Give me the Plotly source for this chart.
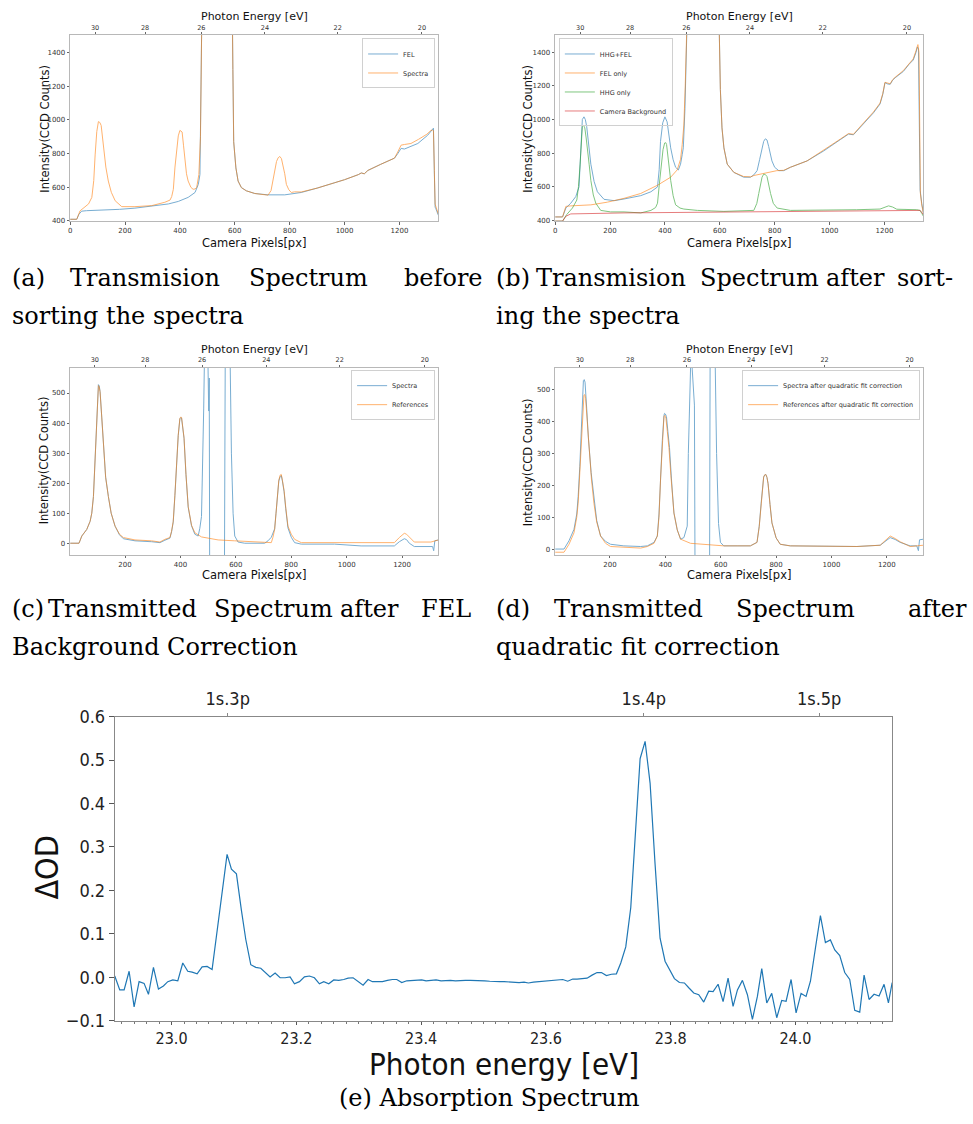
import plotly.graph_objects as go

BLUE = '#1f77b4'; ORANGE = '#ff7f0e'; GREEN = '#2ca02c'; RED = '#d62728'

# ---------------- (a) ----------------
a_fel_px = [0, 24, 32, 42, 60, 115, 180, 236, 300, 358, 394, 430, 455, 467, 473, 479, 484, 590, 593, 596, 604, 612, 624, 642, 673, 721, 782, 842, 900, 964, 1000, 1050, 1061, 1072, 1085, 1130, 1160, 1182, 1194, 1206, 1218, 1236, 1267, 1303, 1315, 1321, 1324, 1327, 1330, 1333, 1342]
a_fel = [410, 410, 440, 458, 461, 464, 469, 476, 487, 501, 516, 540, 569, 617, 676, 1505, 1800, 1800, 1300, 870, 715, 637, 598, 579, 563, 555, 555, 569, 595, 627, 645, 675, 685, 680, 700, 735, 757, 773, 800, 831, 827, 840, 860, 909, 935, 951, 951, 700, 482, 472, 433]
a_spec_px = [0, 24, 36, 50, 67, 79, 86, 91, 97, 103, 108, 113, 121, 130, 139, 150, 164, 188, 236, 297, 345, 364, 370, 376, 382, 388, 394, 400, 404, 408, 413, 418, 424, 430, 440, 448, 455, 461, 469, 475, 479, 484, 590, 593, 596, 604, 612, 624, 642, 673, 721, 732, 739, 745, 752, 758, 764, 770, 776, 782, 788, 797, 806, 818, 842, 900, 964, 1000, 1050, 1061, 1072, 1085, 1130, 1160, 1182, 1194, 1206, 1218, 1242, 1270, 1300, 1315, 1321, 1324, 1327, 1330, 1336, 1342]
a_spec = [410, 410, 460, 480, 501, 540, 640, 792, 930, 990, 985, 967, 831, 720, 637, 570, 520, 485, 485, 491, 511, 524, 545, 588, 720, 831, 905, 938, 935, 928, 850, 753, 680, 637, 600, 588, 590, 598, 676, 900, 1505, 1800, 1800, 1300, 870, 715, 637, 598, 579, 563, 553, 580, 637, 700, 753, 775, 783, 770, 730, 680, 617, 585, 569, 573, 572, 595, 627, 645, 675, 685, 680, 700, 735, 757, 773, 810, 850, 854, 860, 885, 915, 938, 940, 935, 700, 500, 470, 440]

# ---------------- (b) ----------------
b_hf_px = [0, 27, 39, 57, 75, 87, 93, 99, 105, 110, 115, 122, 130, 142, 154, 178, 215, 251, 312, 349, 373, 379, 384, 392, 400, 408, 415, 421, 430, 439, 449, 457, 463, 467, 473, 479, 484, 595, 599, 602, 608, 615, 627, 651, 687, 712, 724, 736, 745, 754, 760, 766, 772, 778, 784, 790, 800, 815, 833, 857, 918, 978, 1039, 1069, 1087, 1124, 1160, 1184, 1194, 1202, 1212, 1221, 1230, 1239, 1269, 1290, 1305, 1315, 1320, 1324, 1328, 1330, 1336, 1342]
b_hf = [419, 419, 472, 501, 540, 598, 800, 1000, 1016, 1000, 957, 850, 734, 630, 569, 524, 516, 526, 546, 569, 598, 700, 870, 980, 1016, 986, 900, 831, 760, 715, 699, 734, 790, 831, 1064, 1505, 1800, 1800, 1505, 1180, 950, 831, 734, 685, 656, 656, 670, 695, 760, 831, 870, 885, 878, 840, 790, 753, 715, 695, 695, 715, 753, 812, 880, 913, 909, 977, 1040, 1093, 1150, 1220, 1212, 1210, 1235, 1249, 1287, 1330, 1355, 1400, 1433, 1420, 800, 579, 500, 443]
b_fel_px = [0, 27, 39, 57, 130, 190, 251, 312, 373, 421, 445, 457, 463, 469, 474, 479, 484, 595, 599, 602, 608, 615, 627, 651, 687, 712, 724, 772, 808, 833, 857, 918, 978, 1039, 1069, 1087, 1124, 1160, 1184, 1194, 1202, 1212, 1221, 1230, 1239, 1269, 1290, 1305, 1315, 1322, 1326, 1329, 1331, 1336, 1342]
b_fel = [419, 419, 482, 485, 491, 507, 530, 559, 608, 656, 700, 763, 850, 967, 1200, 1505, 1800, 1800, 1505, 1180, 950, 831, 734, 685, 660, 658, 666, 685, 695, 697, 715, 753, 815, 883, 916, 912, 980, 1045, 1098, 1155, 1222, 1215, 1213, 1238, 1252, 1292, 1335, 1362, 1410, 1447, 1400, 800, 560, 490, 440]
b_hhg_px = [0, 27, 42, 63, 79, 85, 91, 96, 99, 103, 108, 113, 118, 124, 130, 139, 148, 166, 202, 251, 312, 349, 366, 373, 380, 387, 393, 399, 403, 406, 412, 421, 430, 439, 455, 469, 518, 615, 724, 735, 742, 748, 754, 760, 766, 772, 778, 785, 795, 809, 857, 978, 1099, 1184, 1200, 1215, 1230, 1245, 1318, 1330, 1336, 1342]
b_hhg = [394, 394, 433, 472, 520, 600, 734, 880, 957, 967, 950, 890, 831, 730, 637, 550, 501, 458, 449, 449, 443, 458, 475, 501, 620, 734, 820, 860, 862, 851, 760, 637, 545, 491, 472, 466, 458, 452, 458, 500, 559, 610, 656, 674, 672, 660, 610, 559, 500, 472, 458, 458, 462, 466, 478, 485, 478, 465, 462, 458, 440, 423]
b_bg_px = [0, 27, 39, 57, 251, 615, 978, 1221, 1330, 1336, 1342]
b_bg = [394, 394, 423, 437, 443, 449, 452, 458, 458, 445, 433]

# ---------------- (c) ----------------
c_ref_px = [2, 34, 44, 62, 74, 80, 86, 91, 96, 100, 104, 107, 110, 116, 122, 130, 140, 150, 164, 180, 194, 236, 296, 326, 344, 362, 368, 374, 380, 386, 392, 398, 401, 404, 408, 413, 420, 428, 440, 452, 476, 536, 596, 692, 728, 734, 740, 745, 750, 755, 760, 764, 768, 774, 780, 788, 800, 812, 836, 956, 1076, 1172, 1190, 1208, 1216, 1226, 1244, 1304, 1331]
c_ref = [0, 0, 24, 46, 73, 100, 155, 250, 351, 450, 525, 520, 503, 420, 318, 220, 155, 100, 57, 30, 19, 11, 8, 4, 13, 19, 40, 73, 160, 264, 360, 416, 420, 419, 390, 351, 230, 122, 60, 35, 21, 11, 8, 5, 2, 20, 46, 100, 166, 210, 227, 229, 210, 176, 120, 57, 30, 13, 2, 2, 2, 2, 19, 33, 30, 21, 4, 4, 11]
c_spec_px = [2, 34, 44, 62, 74, 80, 86, 91, 96, 100, 104, 107, 110, 116, 122, 130, 140, 150, 164, 180, 194, 236, 296, 326, 344, 362, 368, 374, 380, 386, 392, 398, 401, 404, 408, 413, 420, 428, 440, 452, 464, 470, 476, 480, 484, 488, 498, 500, 502, 504, 506, 558, 562, 578, 584, 590, 596, 608, 632, 704, 716, 728, 734, 740, 745, 750, 755, 760, 764, 768, 774, 780, 788, 800, 812, 836, 956, 1052, 1172, 1190, 1208, 1216, 1226, 1244, 1310, 1314, 1318, 1331]
c_spec = [0, 0, 24, 46, 73, 100, 155, 250, 351, 450, 528, 524, 505, 420, 318, 220, 155, 100, 57, 28, 15, 8, 5, 2, 10, 17, 38, 70, 158, 262, 358, 414, 418, 417, 388, 349, 228, 120, 58, 30, 24, 50, 89, 250, 450, 700, 700, 560, 440, 550, -300, -300, 700, 700, 300, 100, 24, 4, 0, 0, 8, 20, 35, 48, 100, 164, 207, 222, 225, 207, 172, 115, 51, 20, 2, -3, -3, -9, -9, 5, 15, 12, 0, -11, -11, -25, 8, 11]

# ---------------- (d) ----------------
d_ref_px = [2, 34, 52, 70, 80, 85, 91, 97, 102, 106, 109, 112, 118, 124, 133, 142, 152, 166, 184, 202, 250, 311, 335, 359, 371, 377, 383, 389, 395, 398, 402, 407, 413, 420, 431, 443, 455, 491, 551, 611, 707, 731, 739, 746, 751, 755, 759, 763, 767, 771, 778, 785, 800, 815, 851, 972, 1092, 1176, 1194, 1212, 1230, 1248, 1284, 1332]
d_ref = [-10, -10, 15, 51, 100, 144, 240, 349, 440, 483, 485, 472, 400, 318, 220, 144, 85, 41, 18, 8, 5, 3, 8, 18, 41, 100, 226, 330, 416, 420, 411, 370, 318, 230, 113, 60, 31, 18, 13, 10, 10, 21, 70, 144, 190, 226, 233, 234, 225, 205, 140, 82, 35, 15, 10, 8, 8, 12, 28, 41, 33, 23, 8, 12]
d_spec_px = [2, 34, 52, 70, 80, 85, 91, 97, 101, 104, 107, 110, 116, 122, 132, 142, 152, 166, 184, 202, 250, 311, 335, 359, 371, 377, 383, 389, 395, 397, 400, 404, 409, 415, 422, 431, 443, 455, 467, 475, 479, 483, 487, 495, 497, 500, 505, 508, 559, 562, 578, 585, 592, 599, 611, 659, 707, 731, 735, 739, 746, 751, 755, 759, 763, 767, 771, 778, 785, 800, 815, 851, 972, 1092, 1176, 1194, 1212, 1230, 1248, 1284, 1308, 1314, 1318, 1332]
d_spec = [0, 0, 26, 62, 110, 164, 260, 370, 470, 529, 532, 524, 440, 349, 240, 154, 90, 41, 24, 15, 10, 8, 10, 21, 41, 110, 236, 340, 420, 426, 424, 416, 370, 318, 220, 113, 60, 31, 36, 60, 72, 300, 700, 700, 565, 503, 452, -300, -300, 700, 700, 300, 80, 21, 10, 10, 10, 21, 41, 72, 144, 190, 226, 233, 234, 225, 205, 140, 82, 35, 15, 10, 8, 8, 12, 25, 36, 30, 21, 10, 10, -5, 29, 31]

# top (photon energy) axis of panels a-d: tick positions in camera pixels and labels
energy_tick_px = [91, 273, 478, 710, 975, 1282]
energy_tick_labels = ['30', '28', '26', '24', '22', '20']

# ---------------- (e) ----------------
e_energy = [22.909, 22.917, 22.924, 22.932, 22.940, 22.948, 22.956, 22.963, 22.971, 22.979,
            22.987, 22.994, 23.002, 23.010, 23.018, 23.026, 23.033, 23.041, 23.049, 23.057,
            23.065, 23.073, 23.081, 23.089, 23.096, 23.104, 23.112, 23.119, 23.127, 23.135,
            23.143, 23.151, 23.158, 23.166, 23.174, 23.182, 23.190, 23.197, 23.205, 23.213,
            23.221, 23.229, 23.237, 23.244, 23.252, 23.260, 23.268, 23.276, 23.283, 23.291,
            23.299, 23.307, 23.315, 23.322, 23.330, 23.338, 23.346, 23.354, 23.361, 23.369,
            23.377, 23.385, 23.393, 23.401, 23.408, 23.416, 23.424, 23.432, 23.440, 23.447,
            23.455, 23.463, 23.471, 23.479, 23.487, 23.494, 23.502, 23.510, 23.518, 23.526,
            23.533, 23.541, 23.549, 23.557, 23.565, 23.572, 23.580, 23.588, 23.596, 23.604,
            23.611, 23.619, 23.627, 23.635, 23.643, 23.650, 23.658, 23.666, 23.674, 23.682,
            23.689, 23.697, 23.705, 23.713, 23.720, 23.728, 23.736, 23.744, 23.751, 23.759,
            23.767, 23.775, 23.783, 23.791, 23.798, 23.806, 23.814, 23.822, 23.829, 23.837,
            23.845, 23.853, 23.861, 23.868, 23.876, 23.884, 23.892, 23.900, 23.907, 23.915,
            23.923, 23.931, 23.939, 23.946, 23.954, 23.962, 23.970, 23.978, 23.985, 23.993,
            24.001, 24.009, 24.017, 24.024, 24.032, 24.040, 24.048, 24.056, 24.063, 24.071,
            24.079, 24.087, 24.095, 24.103, 24.110, 24.118, 24.126, 24.134, 24.142, 24.149,
            24.155]
e_dod = [0.003, -0.029, -0.029, 0.014, -0.068, -0.010, -0.014, -0.039, 0.023, -0.027,
         -0.020, -0.010, -0.006, -0.008, 0.033, 0.014, 0.012, 0.008, 0.024, 0.025,
         0.018, 0.108, 0.199, 0.283, 0.249, 0.238, 0.154, 0.087, 0.029, 0.023,
         0.021, 0.010, 0.001, 0.010, -0.001, -0.001, 0.001, -0.015, -0.010, 0.001,
         0.003, -0.001, -0.015, -0.010, -0.015, -0.006, -0.007, -0.005, -0.002, -0.001,
         -0.009, -0.018, -0.005, -0.010, -0.010, -0.010, -0.007, -0.005, -0.005, -0.012,
         -0.008, -0.007, -0.006, -0.006, -0.008, -0.007, -0.006, -0.008, -0.007, -0.007,
         -0.008, -0.007, -0.007, -0.007, -0.007, -0.008, -0.008, -0.009, -0.010, -0.010,
         -0.010, -0.011, -0.011, -0.012, -0.011, -0.013, -0.011, -0.010, -0.009, -0.008,
         -0.008, -0.007, -0.005, -0.009, -0.004, -0.004, -0.003, -0.002, 0.005, 0.011,
         0.011, 0.004, 0.007, 0.008, 0.033, 0.070, 0.160, 0.330, 0.503, 0.543,
         0.447, 0.260, 0.090, 0.037, 0.018, -0.003, -0.012, -0.013, -0.024, -0.036,
         -0.040, -0.057, -0.032, -0.033, -0.016, -0.056, -0.002, -0.067, -0.029, -0.007,
         -0.040, -0.097, -0.044, 0.020, -0.059, -0.037, -0.093, -0.053, -0.055, -0.005,
         -0.082, -0.037, -0.044, -0.009, 0.067, 0.142, 0.080, 0.086, 0.063, 0.050,
         0.011, -0.005, -0.076, -0.080, 0.005, -0.051, -0.039, -0.043, -0.016, -0.059,
         -0.012]
e_line_energy = [23.09, 23.757, 24.038]
e_line_labels = ['1s.3p', '1s.4p', '1s.5p']

# ---------------- figure ----------------
fig = go.Figure()

def add(x, y, name, color, xa, ya, legend, op=0.6, show=True):
    fig.add_trace(go.Scatter(x=x, y=y, mode='lines', name=name, line=dict(color=color, width=1),
                             opacity=op, xaxis=xa, yaxis=ya, legend=legend, showlegend=show,
                             hoverinfo='skip'))

add(a_fel_px, a_fel, 'FEL', BLUE, 'x', 'y', 'legend')
add(a_spec_px, a_spec, 'Spectra', ORANGE, 'x', 'y', 'legend')
add(b_hf_px, b_hf, 'HHG+FEL', BLUE, 'x2', 'y2', 'legend2')
add(b_fel_px, b_fel, 'FEL only', ORANGE, 'x2', 'y2', 'legend2')
add(b_hhg_px, b_hhg, 'HHG only', GREEN, 'x2', 'y2', 'legend2')
add(b_bg_px, b_bg, 'Camera Background', RED, 'x2', 'y2', 'legend2')
add(c_spec_px, c_spec, 'Spectra', BLUE, 'x3', 'y3', 'legend3')
add(c_ref_px, c_ref, 'References', ORANGE, 'x3', 'y3', 'legend3')
add(d_spec_px, d_spec, 'Spectra after quadratic fit correction', BLUE, 'x4', 'y4', 'legend4')
add(d_ref_px, d_ref, 'References after quadratic fit correction', ORANGE, 'x4', 'y4', 'legend4')
fig.add_trace(go.Scatter(x=e_energy, y=e_dod, mode='lines', line=dict(color=BLUE, width=1.2),
                         xaxis='x9', yaxis='y9', showlegend=False, hoverinfo='skip'))

# empty traces so that the secondary (top) axes get drawn
for xa, ya, xv in [('x5', 'y', energy_tick_px), ('x6', 'y2', energy_tick_px),
                   ('x7', 'y3', energy_tick_px), ('x8', 'y4', energy_tick_px),
                   ('x10', 'y9', e_line_energy)]:
    fig.add_trace(go.Scatter(x=[xv[0]], y=[None], mode='lines', xaxis=xa, yaxis=ya,
                             showlegend=False, hoverinfo='skip'))

W, H = 973, 1124
def fx(x):
    return x / W
def fy(y):
    return 1 - y / H
def px_dom(a, b):
    return [fx(a), fx(b)]
def py_dom(top, bottom):
    return [fy(bottom), fy(top)]

TF = dict(family='DejaVu Sans', size=7, color='#333')
FRAME = '#b8b8b8'

def frame_axis(dom, anchor, rng, tickvals):
    return dict(domain=dom, anchor=anchor, range=rng, tickvals=tickvals, ticks='outside',
                ticklen=2.5, tickwidth=1, tickcolor='#666', tickfont=TF, showline=True,
                linecolor=FRAME, linewidth=1, mirror=True, showgrid=False, zeroline=False)

def top_axis(over, anchor, rng):
    return dict(overlaying=over, side='top', anchor=anchor, range=rng, tickvals=energy_tick_px,
                ticktext=energy_tick_labels, ticks='outside', ticklen=1.5, tickwidth=1,
                tickcolor='#666', tickfont=dict(family='DejaVu Sans', size=6.5, color='#333'),
                showgrid=False, zeroline=False, showline=False)

xr_ab = [0, 1342]
xr_c = [2, 1331]
xr_d = [2, 1332]
col1 = px_dom(68.3, 437.3)
col2 = px_dom(554.3, 923.3)
row1 = py_dom(24.3, 214.3)
row2 = py_dom(363.3, 554.3)

xt_pix = [0, 200, 400, 600, 800, 1000, 1200]
xt_pix2 = [200, 400, 600, 800, 1000, 1200]

layout = dict(
    width=W, height=H, margin=dict(l=0, r=0, t=0, b=0),
    paper_bgcolor='white', plot_bgcolor='white',
    xaxis=frame_axis(col1, 'y', xr_ab, xt_pix),
    yaxis=frame_axis(row1, 'x', [398, 1505], [400, 600, 800, 1000, 1200, 1400]),
    xaxis2=frame_axis(col2, 'y2', xr_ab, xt_pix),
    yaxis2=frame_axis(row1, 'x2', [393, 1505], [400, 600, 800, 1000, 1200, 1400]),
    xaxis3=frame_axis(col1, 'y3', xr_c, xt_pix2),
    yaxis3=frame_axis(row2, 'x3', [-39, 585], [0, 100, 200, 300, 400, 500]),
    xaxis4=frame_axis(col2, 'y4', xr_d, xt_pix2),
    yaxis4=frame_axis(row2, 'x4', [-18.5, 570], [0, 100, 200, 300, 400, 500]),
    xaxis5=top_axis('x', 'y', xr_ab),
    xaxis6=top_axis('x2', 'y2', xr_ab),
    xaxis7=top_axis('x3', 'y3', xr_c),
    xaxis8=top_axis('x4', 'y4', xr_d),
)

EF = 'DejaVu Sans Condensed, Liberation Sans Narrow, DejaVu Sans'
layout['xaxis9'] = dict(domain=px_dom(113, 892), anchor='y9', range=[22.909, 24.155],
                        tick0=23.0, dtick=0.2, tickformat='.1f', ticks='outside', ticklen=3,
                        tickcolor='#555', tickfont=dict(family=EF, size=16, color='#222'),
                        minor=dict(tick0=23.0, dtick=0.02, ticks='outside', ticklen=2,
                                   tickcolor='#777'),
                        showline=True, linecolor='#888', linewidth=1, mirror=True,
                        showgrid=False, zeroline=False)
layout['yaxis9'] = dict(domain=py_dom(719, 1029), anchor='x9', range=[-0.1, 0.6],
                        tick0=0, dtick=0.1, tickformat='.1f', ticks='outside', ticklen=5,
                        tickcolor='#555', tickfont=dict(family=EF, size=18, color='#222'),
                        showline=True, linecolor='#888', linewidth=1, mirror=True,
                        showgrid=False, zeroline=False)
layout['xaxis10'] = dict(overlaying='x9', side='top', anchor='y9', range=[22.909, 24.155],
                         tickvals=e_line_energy, ticktext=e_line_labels, ticks='outside',
                         ticklen=3, tickcolor='#888',
                         tickfont=dict(family=EF, size=18, color='#222'),
                         showgrid=False, zeroline=False, showline=False)

LEGF = dict(family='DejaVu Sans', size=6.5, color='#333')
def leg(x, y, xanchor, bg='rgba(255,255,255,0.8)'):
    return dict(x=fx(x), y=fy(y), xanchor=xanchor, yanchor='top', xref='paper', yref='paper',
                font=LEGF, bgcolor=bg, bordercolor='#d0d0d0',
                borderwidth=1, itemwidth=30, tracegroupgap=0)
layout['legend'] = leg(434, 28, 'right')
layout['legend2'] = leg(558, 28, 'left', bg='rgba(255,255,255,0)')
layout['legend3'] = leg(434, 366, 'right')
layout['legend4'] = leg(920, 366, 'right')

fig.update_layout(**layout)

# ---------------- text annotations ----------------
ann = []
def text(x, y, s, size, family='DejaVu Sans', angle=0, xanchor='center', color='#111'):
    ann.append(dict(x=fx(x), y=fy(y), xref='paper', yref='paper', text=s, showarrow=False,
                    font=dict(family=family, size=size, color=color), textangle=angle,
                    xanchor=xanchor, yanchor='middle'))

# axis titles panels a-d
for cx, iy, ty, by, top_y in [(253, 43, 120, 236, 6), (739, 527, 120, 236, 6),
                              (253, 43, 458, 575, 344.5), (739, 527, 460, 575, 344.5)]:
    text(cx, top_y, 'Photon Energy [eV]', 11)
    text(cx, by, 'Camera Pixels[px]', 11.5)
    text(iy, ty, 'Intensity(CCD Counts)', 11.5, angle=-90)
# panel e titles
text(503, 1073, 'Photon energy [eV]', 31, family=EF)
text(45, 872, 'ΔOD', 32, family=EF, angle=-90)

# captions (justified first lines placed word by word)
CF = 'DejaVu Serif'
CS = 24
def words(y, items):
    for x, w in items:
        text(x, y, w, CS, family=CF, xanchor='left', color='#000')

words(272, [(8, '(a)'), (66, 'Transmision'), (246, 'Spectrum'), (401, 'before')])
words(311, [(8, 'sorting the spectra')])
words(272, [(493, '(b)'), (533, 'Transmision'), (697, 'Spectrum'), (824, 'after'), (895, 'sort-')])
words(311, [(493, 'ing the spectra')])
words(609, [(8, '(c)'), (44, 'Transmitted'), (210, 'Spectrum'), (337, 'after'), (418, 'FEL')])
words(648, [(8, 'Background Correction')])
words(609, [(493, '(d)'), (551, 'Transmitted'), (734, 'Spectrum'), (906, 'after')])
words(648, [(493, 'quadratic fit correction')])
text(489, 1108, '(e) Absorption Spectrum', CS, family=CF, color='#000')

fig.update_layout(annotations=ann)
fig.write_html('out.html')
